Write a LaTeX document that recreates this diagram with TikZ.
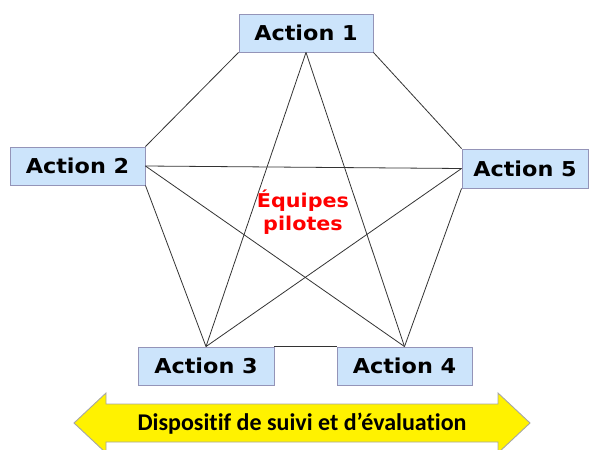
\documentclass[tikz,border=0pt]{standalone}
\usepackage{fontspec}
\setmainfont{DejaVu Sans}
\newfontfamily\verd[FakeStretch=1.09]{DejaVu Sans}
\newfontfamily\calib[Ligatures={NoCommon}]{Carlito}
\begin{document}
\begin{tikzpicture}[x=1pt,y=-1pt,
  actbox/.style={draw=gray!80!blue!70, line width=0.9pt, fill=boxblue, inner sep=0pt,
    font=\verd\fontsize{20.5}{24}\selectfont\bfseries, text=black},
  link/.style={draw=black!80, line width=0.8pt}]
\definecolor{boxblue}{HTML}{CCE4FB}
\useasboundingbox (0,0) rectangle (592,450);
\node[actbox, minimum width=134pt, minimum height=38pt] (a1) at (306,33) {Action 1};
\node[actbox, minimum width=135pt, minimum height=38pt] (a2) at (77.5,166) {Action 2};
\node[actbox, minimum width=126pt, minimum height=39pt] (a5) at (525,168.5) {Action 5};
\node[actbox, minimum width=136pt, minimum height=38pt] (a3) at (206,366) {Action 3};
\node[actbox, minimum width=135pt, minimum height=38pt] (a4) at (404.5,366) {Action 4};
\draw[link] (a1.south west) -- (a2.north east);
\draw[link] (a1.south east) -- (a5.north west);
\draw[link] (a2.south east) -- (a3.north);
\draw[link] (a5.south west) -- (a4.north);
\draw[link] (a3.north east) -- (a4.north west);
\draw[link] (a1.south) -- (a3.north);
\draw[link] (a1.south) -- (a4.north);
\draw[link] (a2.east) -- (a5.west);
\draw[link] (a2.east) -- (a4.north);
\draw[link] (a5.west) -- (a3.north);
\node[text=red, font=\verd\fontsize{19}{23}\selectfont\bfseries, align=center] (eq) at (303,212) {Équipes\\pilotes};
\draw[fill=yellow, draw=gray!70, line width=0.9pt]
  (74,423) -- (106,393) -- (106,404) -- (498,404) -- (498,393) -- (530,423)
  -- (498,453) -- (498,442) -- (106,442) -- (106,453) -- cycle;
\node[font=\calib\fontsize{24}{28}\selectfont\bfseries] (dis) at (302,424) {Dispositif de suivi et d’évaluation};
\end{tikzpicture}
\end{document}
